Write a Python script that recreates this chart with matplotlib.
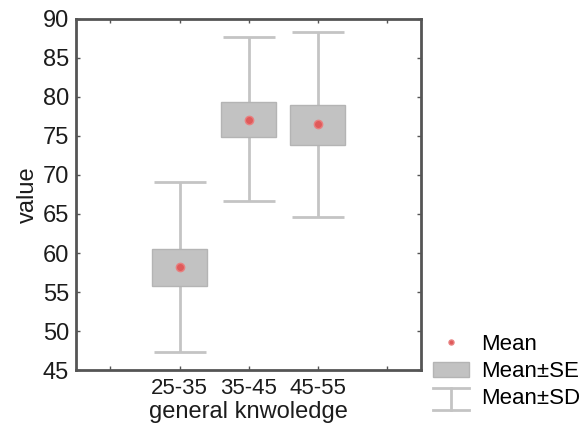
import matplotlib
matplotlib.use("Agg")
import matplotlib.pyplot as plt
from matplotlib.patches import Rectangle
from matplotlib.lines import Line2D
from matplotlib.legend_handler import HandlerBase

plt.rcParams['font.family'] = ['Liberation Sans', 'DejaVu Sans']

# data
groups = ['25-35', '35-45', '45-55']
means = [58.25, 77.05, 76.5]
se_low = [55.8, 74.8, 73.9]
se_high = [60.5, 79.4, 79.0]
sd_low = [47.3, 66.7, 64.65]
sd_high = [69.1, 87.65, 88.3]

positions = [1, 2, 3]
box_w = 0.79
line_col = '#c4c4c4'
box_col = '#c2c2c2'
spine_col = '#555555'
text_col = '#1c1c1c'


class SDHandler(HandlerBase):
    # draws the "I" shaped whisker symbol used for Mean±SD
    def create_artists(self, legend, orig_handle, xdescent, ydescent,
                       width, height, fontsize, trans):
        cx = width / 2 - xdescent
        y0 = -ydescent - 0.35 * height
        y1 = -ydescent + 1.05 * height
        kw = dict(color=line_col, lw=2, transform=trans)
        return [Line2D([cx, cx], [y0, y1], **kw),
                Line2D([-xdescent, width - xdescent], [y0, y0], **kw),
                Line2D([-xdescent, width - xdescent], [y1, y1], **kw)]


fig = plt.figure(figsize=(5.8, 4.38), dpi=100)
ax = fig.add_axes([0.131, 0.155, 0.595, 0.802])

# Mean +- SD whiskers
sd_err = [[m - lo for m, lo in zip(means, sd_low)],
          [hi - m for m, hi in zip(means, sd_high)]]
ax.errorbar(positions, means, yerr=sd_err, fmt='none', ecolor=line_col,
            elinewidth=2, capsize=19, capthick=2, zorder=1)

# Mean +- SE boxes
for x, lo, hi in zip(positions, se_low, se_high):
    ax.add_patch(Rectangle((x - box_w / 2, lo), box_w, hi - lo,
                           facecolor=box_col, edgecolor='#b4b4b4', lw=1, zorder=2))
se_handle = Rectangle((0, 0), 1, 1, facecolor=box_col, edgecolor='#b4b4b4', lw=1)
sd_handle = Line2D([], [])

# Means
mean_h, = ax.plot(positions, means, 'o', color='#e05a5a', markersize=6,
                  markeredgecolor='#e88080', zorder=3, linestyle='none')

ax.set_xlim(-0.5, 4.5)
ax.set_ylim(45, 90)
ax.set_xticks([0, 1, 2, 3, 4])
ax.set_xticklabels(['', '25-35', '35-45', '45-55', ''])
ax.set_yticks(range(45, 91, 5))
ax.tick_params(axis='x', labelsize=16, pad=6)
ax.tick_params(axis='y', labelsize=17, pad=5)
ax.tick_params(direction='in', length=3, width=1, colors=spine_col,
               labelcolor=text_col, top=True, right=True)
for s in ax.spines.values():
    s.set_color(spine_col)
    s.set_linewidth(2)

ax.set_xlabel('general knwoledge', fontsize=17, color=text_col, labelpad=1)
ax.set_ylabel('value', fontsize=17, color=text_col, labelpad=3)

fig.legend([mean_h, se_handle, sd_handle], ['Mean', 'Mean±SE', 'Mean±SD'],
           handler_map={sd_handle: SDHandler()},
           loc='upper left', bbox_to_anchor=(433 / 580, 1 - 334 / 438),
           frameon=False, borderpad=0, borderaxespad=0,
           fontsize=16, handlelength=1.6, handleheight=0.7,
           handletextpad=0.55, labelspacing=0.28, markerscale=0.6)

fig.savefig('out.png', dpi=100, facecolor='white')
